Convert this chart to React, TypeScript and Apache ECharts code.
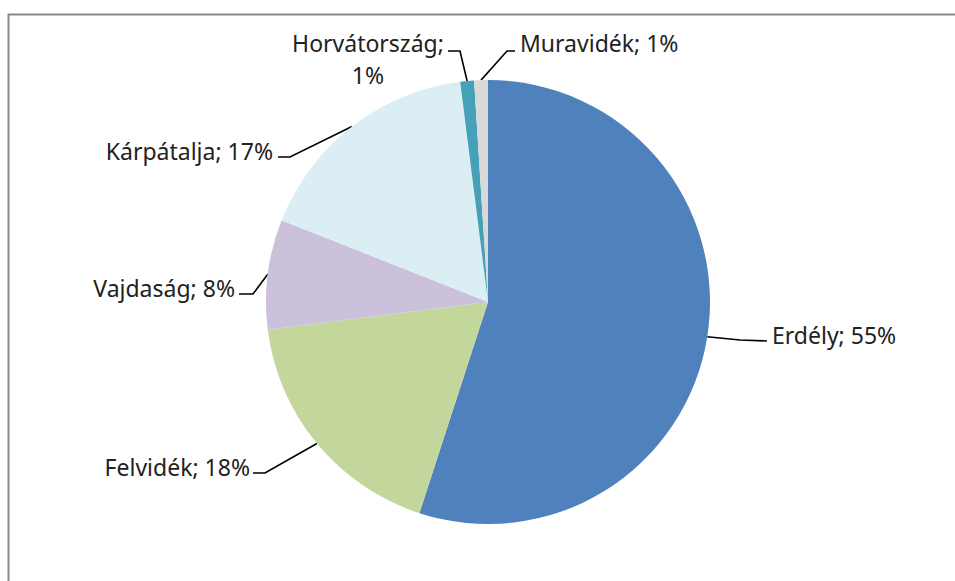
import React, { useEffect, useRef } from "react";
import * as echarts from "echarts";

const regions = ["Erdély", "Felvidék", "Vajdaság", "Kárpátalja", "Horvátország", "Muravidék"];
const shares = [55, 18, 8, 17, 1, 1];
const colors = ["#4F81BD", "#C3D69B", "#CCC1DA", "#DBEEF4", "#45A0B8", "#D9D9D9"];
const wrapped = [false, false, false, false, true, false];

// label anchor + leader-line elbow/end (label layout only)
const labelPlacement = [
  { x: 772, y: 335, align: "left", elbow: [740, 340], end: [767, 341] },
  { x: 250, y: 467, align: "right", elbow: [265, 473], end: [253, 473] },
  { x: 235, y: 288, align: "right", elbow: [253, 294], end: [239, 294] },
  { x: 273, y: 151, align: "right", elbow: [290, 157], end: [278, 157] },
  { x: 368, y: 59, align: "center", elbow: [460, 51], end: [448, 51] },
  { x: 520, y: 43, align: "left", elbow: [507, 51], end: [515, 51] },
];

export default function App() {
  const ref = useRef<HTMLDivElement>(null);
  useEffect(() => {
    if (!ref.current) return;
    const chart = echarts.init(ref.current, undefined, { renderer: "svg" });
    chart.setOption({
      animation: false,
      backgroundColor: "#ffffff",
      graphic: [
        {
          type: "rect",
          shape: { x: 8.5, y: 14.5, width: 1200, height: 1200 },
          style: { fill: "none", stroke: "#898989", lineWidth: 2 },
          silent: true,
        },
      ],
      series: [
        {
          type: "pie",
          center: [488, 302],
          radius: [0, 222],
          startAngle: 90,
          clockwise: true,
          avoidLabelOverlap: false,
          itemStyle: { borderWidth: 0 },
          label: {
            show: true,
            position: "outside",
            formatter: "{b}; {c}%",
            fontFamily: "Noto Sans",
            fontSize: 23,
            color: "#222222",
            lineHeight: 32,
          },
          labelLine: {
            show: true,
            smooth: false,
            lineStyle: { color: "#000000", width: 1.6 },
          },
          labelLayout: (params: any) => {
            const p = labelPlacement[params.dataIndex];
            const p0 = params.labelLinePoints ? params.labelLinePoints[0] : p.elbow;
            return {
              x: p.x,
              y: p.y,
              align: p.align,
              verticalAlign: "middle",
              labelLinePoints: [p0, p.elbow, p.end],
            };
          },
          data: regions.map((name, i) => ({
            name,
            value: shares[i],
            itemStyle: { color: colors[i] },
            label: wrapped[i] ? { formatter: "{b};\n{c}%", align: "center" } : undefined,
          })),
        },
      ],
    });
    return () => chart.dispose();
  }, []);
  return (
    <div
      ref={ref}
      style={{ position: "absolute", left: 0, top: 0, width: 955, height: 581 }}
    />
  );
}
